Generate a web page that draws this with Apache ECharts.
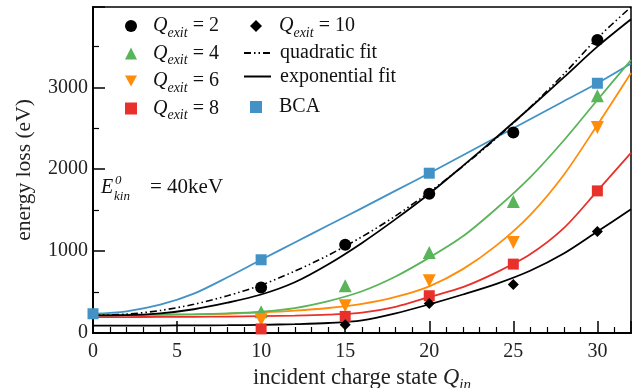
<!DOCTYPE html>
<html>
<head>
<meta charset="utf-8">
<script src="https://cdn.jsdelivr.net/npm/echarts@6/dist/echarts.min.js"></script>
<style>
  html, body { margin: 0; padding: 0; background: #fff; }
  #box { width: 639px; height: 388px; }
</style>
</head>
<body>
<div id="box"></div>
<script>
// measured points
const qIn = [10, 15, 20, 25, 30];
const q2 = [556, 1077, 1699, 2447, 3577];
const q4 = [260, 577, 983, 1605, 2898];
const q6 = [162, 333, 638, 1105, 2508];
const q8 = [50, 203, 455, 841, 1735];
const q10 = [null, 101, 361, 593, 1239];

const bcaX = [0, 10, 20, 30];
const bca = [235, 894, 1951, 3049];

// fit curves, every 2 units
const fitX = [0, 2, 4, 6, 8, 10, 12, 14, 16, 18, 20, 22, 24, 26, 28, 30, 32];
const quadQ2 = [215, 230, 275, 350, 455, 585, 755, 950, 1175, 1430, 1720, 2035, 2380, 2755, 3160, 3600, 3980];
const expQ2 = [215, 218, 240, 290, 370, 470, 620, 840, 1100, 1390, 1700, 2040, 2390, 2750, 3120, 3496, 3830];
const expQ4 = [220, 221, 222, 228, 240, 262, 305, 390, 510, 690, 920, 1180, 1520, 1900, 2350, 2845, 3333];
const expQ6 = [225, 225, 226, 228, 235, 250, 272, 305, 355, 440, 570, 780, 1070, 1440, 1930, 2540, 3175];
const expQ8 = [195, 195, 196, 198, 200, 205, 212, 225, 250, 320, 440, 560, 740, 960, 1280, 1735, 2200];
const expQ10 = [90, 90, 91, 93, 95, 100, 108, 122, 155, 240, 350, 470, 600, 760, 970, 1239, 1510];
const bcaCurve = [235, 265, 345, 480, 680, 894, 1105, 1315, 1525, 1738, 1951, 2170, 2390, 2610, 2830, 3049, 3290];

const xTicks = [0, 5, 10, 15, 20, 25, 30];
const yTicks = [0, 1000, 2000, 3000];

const FONT = 'Liberation Serif';
const green = '#5ab45a', orange = '#ff8c0a', red = '#e8312a', blue = '#4292c6';
const downTri = 'path://M0,0 L10,0 L5,9 Z';

const pts = (xs, ys) => xs.map((x, i) => [x, ys[i]]).filter(p => p[1] != null);

const legendText = {
    Q2: '{i|Q}{s|exit}{n| = 2}',
    Q4: '{i|Q}{s|exit}{n| = 4}',
    Q6: '{i|Q}{s|exit}{n| = 6}',
    Q8: '{i|Q}{s|exit}{n| = 8}',
    Q10: '{i|Q}{s|exit}{n| = 10}'
};
const rich = {
    i: { fontFamily: FONT, fontStyle: 'italic', fontSize: 20, lineHeight: 28, color: '#111' },
    s: { fontFamily: FONT, fontStyle: 'italic', fontSize: 14, lineHeight: 14, verticalAlign: 'bottom', color: '#111' },
    n: { fontFamily: FONT, fontSize: 20, lineHeight: 28, color: '#111' }
};
const fmt = n => legendText[n] ? legendText[n] : '{n|' + n + '}';

const chart = echarts.init(document.getElementById('box'));

const fitLine = (name, ys, color, extra) => Object.assign({
    name: name,
    type: 'line',
    data: pts(fitX, ys),
    smooth: 0.3,
    symbol: 'none',
    lineStyle: { color: color, width: 1.8 },
    itemStyle: { color: color },
    z: 2
}, extra || {});

const dots = (name, xs, ys, symbol, size, color) => ({
    name: name,
    type: 'scatter',
    data: pts(xs, ys),
    symbol: symbol,
    symbolSize: size,
    itemStyle: { color: color, opacity: 1 },
    z: 5
});

const legendBase = (extra, pad) => Object.assign({
    orient: 'vertical',
    itemHeight: 12,
    itemGap: 3.5,
    formatter: fmt,
    selectedMode: false,
    textStyle: { fontFamily: FONT, fontSize: 20, color: '#111', rich: rich, padding: [0, 0, 0, pad] }
}, extra);

chart.setOption({
    animation: false,
    grid: {
        left: 93, right: 8, top: 7, bottom: 55,
        outerBoundsMode: 'none',
        containLabel: false,
        show: true, borderColor: '#000', borderWidth: 1.5, backgroundColor: 'transparent'
    },
    legend: [
        legendBase({ data: ['Q2', 'Q4', 'Q6', 'Q8'], left: 120, top: 11, itemWidth: 12 }, 11),
        legendBase({ data: ['Q10'], left: 245, top: 11, itemWidth: 12 }, 12),
        legendBase({
            data: [
                { name: 'quadratic fit', itemStyle: { opacity: 0 } },
                { name: 'exponential fit', itemStyle: { opacity: 0 } }
            ],
            left: 238, top: 38, itemWidth: 27
        }, 4),
        legendBase({ data: ['BCA'], left: 245, top: 92, itemWidth: 12 }, 12)
    ],
    xAxis: {
        type: 'value',
        min: 0, max: 32, interval: 5,
        name: '{n|incident charge state }{i|Q}{s|in}',
        nameLocation: 'middle',
        nameGap: 26,
        nameTextStyle: {
            rich: {
                n: { fontFamily: FONT, fontSize: 22.5, lineHeight: 28, color: '#222' },
                i: { fontFamily: FONT, fontStyle: 'italic', fontSize: 22.5, lineHeight: 28, color: '#222' },
                s: { fontFamily: FONT, fontStyle: 'italic', fontSize: 15, lineHeight: 14, verticalAlign: 'bottom', color: '#222' }
            }
        },
        axisLine: { lineStyle: { color: '#000', width: 2 } },
        axisTick: { inside: true, length: 12, lineStyle: { color: '#000', width: 1.5 } },
        minorTick: { show: true, splitNumber: 5, length: 6, lineStyle: { color: '#000', width: 1.2 } },
        axisLabel: {
            fontFamily: FONT, fontSize: 20, color: '#222', margin: 9,
            showMaxLabel: false,
            formatter: v => xTicks.indexOf(v) >= 0 ? String(v) : ''
        },
        splitLine: { show: false }
    },
    yAxis: {
        type: 'value',
        min: 0, max: 3980, interval: 1000,
        name: 'energy loss (eV)',
        nameLocation: 'middle',
        nameGap: 58,
        nameTextStyle: { fontFamily: FONT, fontSize: 21.5, color: '#222' },
        axisLine: { lineStyle: { color: '#000', width: 2 } },
        axisTick: { inside: true, length: 12, lineStyle: { color: '#000', width: 1.5 } },
        minorTick: { show: true, splitNumber: 2, length: 6, lineStyle: { color: '#000', width: 1.2 } },
        axisLabel: {
            fontFamily: FONT, fontSize: 20, color: '#222', margin: 5,
            showMaxLabel: false,
            formatter: v => yTicks.indexOf(v) >= 0 ? String(v) : ''
        },
        splitLine: { show: false }
    },
    graphic: [
        { type: 'text', left: 101, top: 178, style: { text: 'E', font: 'italic 20px ' + FONT, fill: '#111' } },
        { type: 'text', left: 115, top: 174, style: { text: '0', font: 'italic 13px ' + FONT, fill: '#111' } },
        { type: 'text', left: 114, top: 190, style: { text: 'kin', font: 'italic 13px ' + FONT, fill: '#111' } },
        { type: 'text', left: 150, top: 177, style: { text: '= 40keV', font: '21px ' + FONT, fill: '#111' } }
    ],
    series: [
        fitLine('bcaCurve', bcaCurve, blue),
        fitLine('exp10', expQ10, '#000'),
        fitLine('exp8', expQ8, red),
        fitLine('exp6', expQ6, orange),
        fitLine('exp4', expQ4, green),
        fitLine('quadratic fit', quadQ2, '#000', {
            lineStyle: { color: '#000', width: 1.6, type: [7, 3, 1.5, 3, 1.5, 3] }
        }),
        fitLine('exponential fit', expQ2, '#000'),
        dots('Q2', qIn, q2, 'circle', 12, '#000'),
        dots('Q4', qIn, q4, 'triangle', 13, green),
        dots('Q6', qIn, q6, downTri, 13, orange),
        dots('Q8', qIn, q8, 'rect', 11, red),
        dots('Q10', qIn, q10, 'diamond', 11, '#000'),
        dots('BCA', bcaX, bca, 'rect', 11, blue)
    ]
});
</script>
</body>
</html>
